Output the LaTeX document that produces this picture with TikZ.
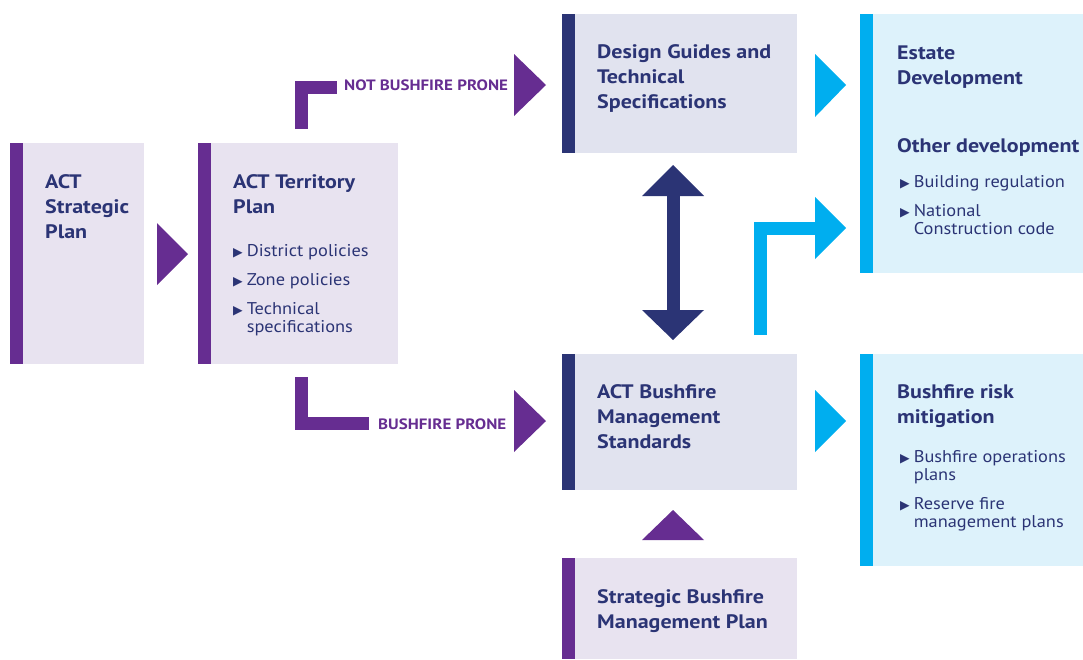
\documentclass[tikz,border=0pt]{standalone}
\usepackage{fontspec}
\setmainfont{PT Sans}
\newfontfamily\tfont{PT Sans}[FakeStretch=1.13]
\newfontfamily\lfont{PT Sans}[FakeStretch=1.08]
\newfontfamily\symf{DejaVu Sans}
\definecolor{purp}{HTML}{662D91}
\definecolor{navy}{HTML}{2B3475}
\definecolor{lpurp}{HTML}{E8E3F0}
\definecolor{lnavy}{HTML}{E1E3EF}
\definecolor{skyb}{HTML}{00AEEF}
\definecolor{lsky}{HTML}{DDF2FB}
\newcommand{\bul}{{\symf\fontsize{12.5}{12.5}\selectfont ▶}}
\tikzset{
  box/.style={rectangle, inner sep=0pt, outer sep=0pt, anchor=north west},
  ttl/.style={anchor=base west, inner sep=0pt, align=left, text=navy, font=\tfont\fontsize{19.5}{25}\selectfont\bfseries},
  lst/.style={anchor=base west, inner sep=0pt, text=navy, font=\lfont\fontsize{17}{18}\selectfont},
  lbl/.style={anchor=base west, inner sep=0pt, text=purp, font=\tfont\fontsize{15}{16}\selectfont\bfseries},
  elbow/.style={line width=13pt, line cap=butt, line join=miter}
}
\begin{document}
\begin{tikzpicture}[x=1pt,y=-1pt]
\useasboundingbox (0,0) rectangle (1083,659);
% boxes
\node[box, fill=lpurp, minimum width=134pt, minimum height=221pt] (sp) at (10,143) {};
\node[box, fill=lpurp, minimum width=200pt, minimum height=221pt] (tp) at (198,143) {};
\node[box, fill=lnavy, minimum width=235pt, minimum height=139pt] (dg) at (562,14) {};
\node[box, fill=lnavy, minimum width=235pt, minimum height=136pt] (bs) at (562,354) {};
\node[box, fill=lpurp, minimum width=235pt, minimum height=101pt] (sb) at (562,558) {};
\node[box, fill=lsky, minimum width=223pt, minimum height=259pt] (ed) at (860,14) {};
\node[box, fill=lsky, minimum width=223pt, minimum height=212pt] (br) at (860,354) {};
% bars
\fill[purp] (sp.north west) rectangle ([xshift=13pt]sp.south west);
\fill[purp] (tp.north west) rectangle ([xshift=13pt]tp.south west);
\fill[navy] (dg.north west) rectangle ([xshift=13pt]dg.south west);
\fill[navy] (bs.north west) rectangle ([xshift=13pt]bs.south west);
\fill[purp] (sb.north west) rectangle ([xshift=13pt]sb.south west);
\fill[skyb] (ed.north west) rectangle ([xshift=13pt]ed.south west);
\fill[skyb] (br.north west) rectangle ([xshift=13pt]br.south west);
% texts (anchor = baseline of last line)
\node[ttl] (spt) at (45,238) {ACT\\Strategic\\Plan};
\node[ttl] (tpt) at (233,213) {ACT Territory\\Plan};
\node[lst] (tpl) at (233,256) {\begin{tabular}[t]{@{}l@{\hspace{4pt}}l@{}}
\bul & District policies\\[11pt]
\bul & Zone policies\\[11pt]
\bul & Technical\\
     & specifications\end{tabular}};
\node[ttl] (dgt) at (597,108) {Design Guides and\\Technical\\Specifications};
\node[ttl] (bst) at (597,448) {ACT Bushfire\\Management\\Standards};
\node[ttl] (sbt) at (597,628) {Strategic Bushfire\\Management Plan};
\node[ttl] (edt) at (897,84) {Estate\\Development};
\node[ttl] (odt) at (897,152) {Other development};
\node[lst] (odl) at (900,187) {\begin{tabular}[t]{@{}l@{\hspace{4pt}}l@{}}
\bul & Building regulation\\[11pt]
\bul & National\\
     & Construction code\end{tabular}};
\node[ttl] (brt) at (897,423) {Bushfire risk\\mitigation};
\node[lst] (brl) at (900,462) {\begin{tabular}[t]{@{}l@{\hspace{4pt}}l@{}}
\bul & Bushfire operations\\
     & plans\\[11pt]
\bul & Reserve fire\\
     & management plans\end{tabular}};
\node[lbl] (nbp) at (344,90.5) {NOT BUSHFIRE PRONE};
\node[lbl] (bp) at (378,429) {BUSHFIRE PRONE};
% triangle heads
\fill[purp] (157,223) -- (188,254) -- (157,285) -- cycle;
\fill[purp] (514,54) -- (546,85) -- (514,116) -- cycle;
\fill[purp] (514,390) -- (546,421) -- (514,452) -- cycle;
\fill[skyb] (815,54) -- (846,85) -- (815,117) -- cycle;
\fill[skyb] (815,197) -- (846,228) -- (815,259) -- cycle;
\fill[skyb] (815,390) -- (846,421) -- (815,452) -- cycle;
\fill[purp] (642,540) -- (673,510) -- (704,540) -- cycle;
% double arrow
\fill[navy] (642,196) -- (673,165) -- (704,196) -- cycle;
\fill[navy] (642,310) -- (673,340) -- (704,310) -- cycle;
\fill[navy] (667,195) rectangle (680,311);
% elbows
\coordinate (nbs) at (301.5,129);
\coordinate (nbe) at (337,87.5);
\coordinate (bps) at (301.5,377);
\coordinate (bpe) at (369,423);
\coordinate (bls) at (760.5,335);
\coordinate (ble) at (815,228);
\draw[elbow, purp] (nbs) |- (nbe);
\draw[elbow, purp] (bps) |- (bpe);
\draw[elbow, skyb] (bls) |- (ble);
\end{tikzpicture}
\end{document}
